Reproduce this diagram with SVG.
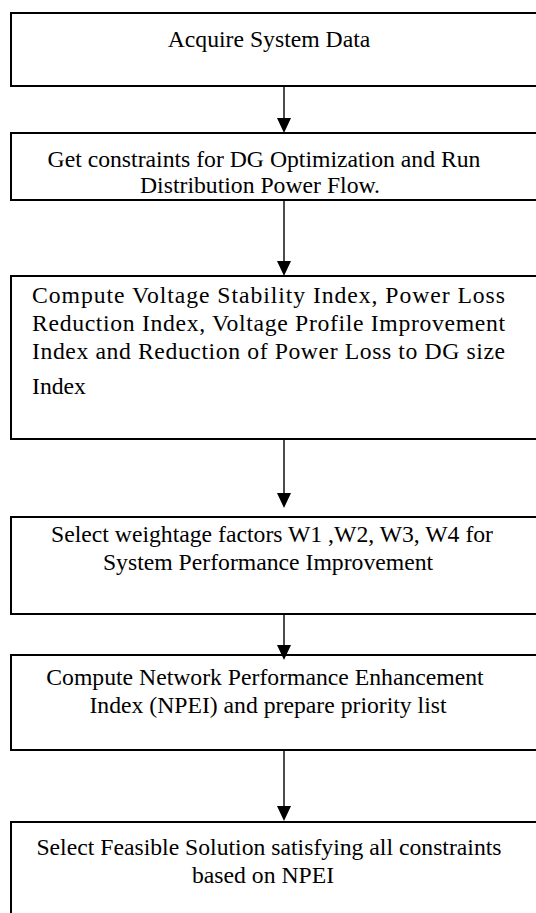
<svg xmlns="http://www.w3.org/2000/svg" width="536" height="913" viewBox="0 0 536 913">
<style>
.box{fill:#fff;stroke:#000;stroke-width:2}
.t{font-family:"Liberation Serif","Times New Roman",serif;font-size:23.7px;fill:#000}
.c{text-anchor:middle}
.edge{stroke:#000;stroke-width:1.4;fill:none}
.head{fill:#000}
</style>
<rect width="536" height="913" fill="#fff"/>
<g id="n1">
<rect class="box" x="11" y="13" width="540" height="73"/>
<text class="t c" x="269" y="47">Acquire System Data</text>
</g>
<g id="n2">
<rect class="box" x="11" y="133" width="540" height="67"/>
<text class="t c" x="264" y="167">Get constraints for DG Optimization and Run</text>
<text class="t c" x="260" y="193">Distribution Power Flow.</text>
</g>
<g id="n3">
<rect class="box" x="11" y="276" width="540" height="163"/>
<text class="t" x="32" y="303" textLength="473" lengthAdjust="spacing">Compute Voltage Stability Index, Power Loss</text>
<text class="t" x="32" y="331" textLength="473" lengthAdjust="spacing">Reduction Index, Voltage Profile Improvement</text>
<text class="t" x="32" y="359" textLength="473" lengthAdjust="spacing">Index and Reduction of Power Loss to DG size</text>
<text class="t" x="32" y="394">Index</text>
</g>
<g id="n4">
<rect class="box" x="11" y="517" width="540" height="97"/>
<text class="t c" x="272" y="542">Select weightage factors W1 ,W2, W3, W4 for</text>
<text class="t c" x="268" y="570">System Performance Improvement</text>
</g>
<g id="n5">
<rect class="box" x="11" y="655" width="540" height="95"/>
<text class="t c" x="265" y="685">Compute Network Performance Enhancement</text>
<text class="t c" x="268" y="713">Index (NPEI) and prepare priority list</text>
</g>
<g id="n6">
<path class="box" d="M11 915 V822 H551"/>
<text class="t c" x="269" y="855">Select Feasible Solution satisfying all constraints</text>
<text class="t c" x="263" y="883">based on NPEI</text>
</g>
<g id="connectors">
<line class="edge" x1="284" y1="86" x2="284" y2="120"/>
<polygon class="head" points="277,118 291,118 284,133"/>
<line class="edge" x1="284" y1="200" x2="284" y2="263"/>
<polygon class="head" points="277,261 291,261 284,276"/>
<line class="edge" x1="284" y1="439" x2="284" y2="495"/>
<polygon class="head" points="277,493 291,493 284,508"/>
<line class="edge" x1="284" y1="614" x2="284" y2="647"/>
<polygon class="head" points="277,645 291,645 284,660"/>
<line class="edge" x1="284" y1="750" x2="284" y2="808"/>
<polygon class="head" points="277,806 291,806 284,821"/>
</g>
</svg>
